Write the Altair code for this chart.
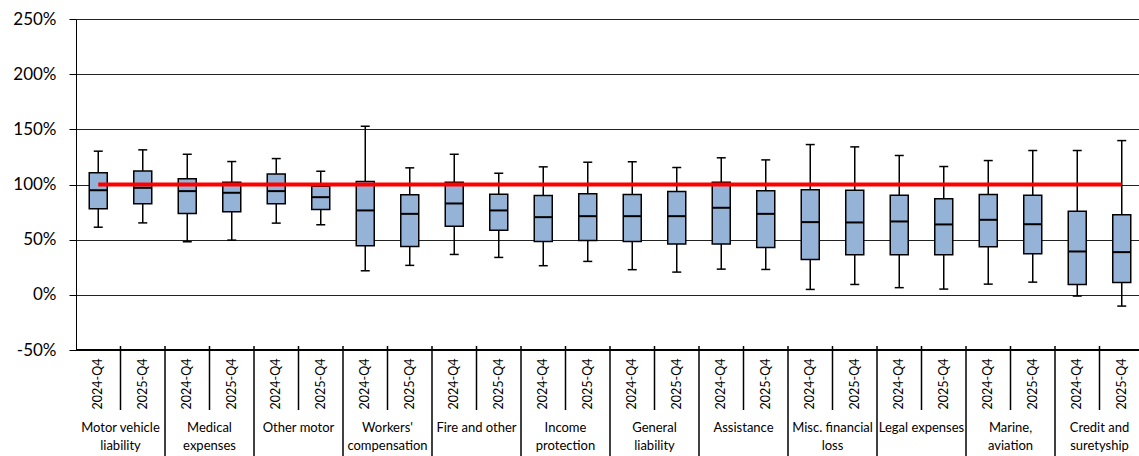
import altair as alt
import pandas as pd

# Lines of business, two reference periods each
categories = [
    "Motor vehicle\nliability", "Medical\nexpenses", "Other motor",
    "Workers'\ncompensation", "Fire and other", "Income\nprotection",
    "General\nliability", "Assistance", "Misc. financial\nloss",
    "Legal expenses", "Marine,\naviation", "Credit and\nsuretyship",
]
periods = ["2024-Q4", "2025-Q4"]

# Box-plot statistics (%), in category/period order
whisker_high = [130.2, 131.4, 127.4, 120.8, 123.5, 112.0, 152.8, 115.1,
                127.4, 110.2, 116.0, 120.2, 120.6, 115.4, 124.2, 122.3,
                136.2, 134.1, 126.3, 116.3, 121.7, 130.8, 130.8, 139.8]
q3 = [110.6, 112.2, 105.2, 102.1, 109.5, 98.5, 102.7, 90.6,
      102.1, 91.2, 90.0, 91.6, 90.9, 93.7, 102.1, 94.3,
      95.2, 94.9, 90.3, 87.0, 90.9, 90.3, 75.8, 72.6]
median = [94.8, 97.0, 94.0, 92.5, 94.0, 88.5, 76.5, 73.4,
          82.8, 76.5, 70.4, 71.3, 71.3, 71.3, 78.9, 73.4,
          65.9, 65.6, 66.5, 63.8, 68.0, 64.0, 39.3, 38.7]
q1 = [78.0, 82.5, 73.8, 75.3, 82.6, 77.4, 44.5, 43.9,
      62.2, 58.6, 48.4, 49.3, 48.4, 46.0, 46.0, 43.0,
      32.1, 36.3, 36.3, 36.3, 43.6, 37.2, 9.4, 11.2]
whisker_low = [61.3, 65.2, 48.1, 49.6, 65.0, 63.5, 21.8, 26.7,
               36.6, 33.9, 26.4, 30.3, 22.8, 20.6, 23.3, 23.0,
               4.9, 9.4, 6.5, 5.2, 9.7, 11.5, -1.1, -10.2]
target = 100
y_ticks = [-50, 0, 50, 100, 150, 200, 250]

# Layout (pixels)
PAD_LEFT, PAD_TOP = 76, 19
PLOT_W, PLOT_H = 1063, 331
PAD_BOTTOM = 456 - PAD_TOP - PLOT_H
SLOT_PX = 44.5
x_max = PLOT_W / SLOT_PX

rows = []
for ci, cat in enumerate(categories):
    for pi, per in enumerate(periods):
        i = ci * len(periods) + pi
        rows.append(dict(category=cat, period=per, pos=i + 0.5,
                         low=whisker_low[i], q1=q1[i], median=median[i],
                         q3=q3[i], high=whisker_high[i]))
df = pd.DataFrame(rows)

cat_centers = pd.DataFrame({
    "category": categories,
    "pos": [ci * len(periods) + len(periods) / 2 for ci in range(len(categories))],
})
year_seps = pd.DataFrame({"pos": [ci * 2 + 1 for ci in range(len(categories))]})
cat_seps = pd.DataFrame({"pos": [ci * 2 for ci in range(1, len(categories))]})
target_df = pd.DataFrame({"x": [df["pos"].iloc[0]], "x2": [df["pos"].iloc[-1]], "y": [target]})
floor_df = pd.DataFrame({"x": [0], "x2": [x_max], "y": [y_ticks[0]]})

x_scale = alt.Scale(domain=[0, x_max], nice=False, zero=False, padding=0)
y_scale = alt.Scale(domain=[y_ticks[0], y_ticks[-1]], nice=False, zero=False, padding=0)

FONT = "Lato"

base = alt.Chart(df)

whiskers = base.mark_rule(color="black", strokeWidth=1.5).encode(
    x=alt.X("pos:Q", scale=x_scale, axis=None),
    y=alt.Y("low:Q", scale=y_scale,
            axis=alt.Axis(values=y_ticks, labelExpr="datum.value + '%'",
                          title=None, grid=True, gridColor="#222222",
                          gridWidth=1, domainColor="black", domainWidth=1,
                          tickColor="black", tickSize=7, labelPadding=13,
                          labelFontSize=17, labelFont=FONT,
                          labelColor="black")),
    y2="high:Q",
)

caps_low = base.mark_tick(orient="horizontal", size=9, thickness=1.5,
                          color="black", opacity=1).encode(
    x=alt.X("pos:Q", scale=x_scale), y=alt.Y("low:Q", scale=y_scale))
caps_high = base.mark_tick(orient="horizontal", size=9, thickness=1.5,
                           color="black", opacity=1).encode(
    x=alt.X("pos:Q", scale=x_scale), y=alt.Y("high:Q", scale=y_scale))

boxes = base.mark_bar(size=18, fill="#95B3D7", stroke="black",
                      strokeWidth=1.5, opacity=1).encode(
    x=alt.X("pos:Q", scale=x_scale),
    y=alt.Y("q1:Q", scale=y_scale),
    y2="q3:Q",
)

medians = base.mark_tick(orient="horizontal", size=18, thickness=2,
                         color="black", opacity=1).encode(
    x=alt.X("pos:Q", scale=x_scale), y=alt.Y("median:Q", scale=y_scale))

target_line = alt.Chart(target_df).mark_rule(color="#FF0000", strokeWidth=4).encode(
    x=alt.X("x:Q", scale=x_scale), x2="x2:Q", y=alt.Y("y:Q", scale=y_scale))

floor_line = alt.Chart(floor_df).mark_rule(color="black", strokeWidth=2).encode(
    x=alt.X("x:Q", scale=x_scale), x2="x2:Q", y=alt.Y("y:Q", scale=y_scale))

# Category axis drawn below the plot: separators and labels
year_sep_rules = alt.Chart(year_seps).mark_rule(color="black", strokeWidth=1.5).encode(
    x=alt.X("pos:Q", scale=x_scale),
    y=alt.value(PLOT_H - 4), y2=alt.value(PLOT_H + 60))
cat_sep_rules = alt.Chart(cat_seps).mark_rule(color="black", strokeWidth=1.5).encode(
    x=alt.X("pos:Q", scale=x_scale),
    y=alt.value(PLOT_H - 4), y2=alt.value(PLOT_H + PAD_BOTTOM))

period_labels = base.mark_text(angle=270, align="center", baseline="middle",
                               font=FONT, fontSize=12.5, color="black").encode(
    x=alt.X("pos:Q", scale=x_scale), y=alt.value(PLOT_H + 34), text="period:N")

cat_labels = alt.Chart(cat_centers).mark_text(
    align="center", baseline="middle", lineBreak="\n", lineHeight=17.5,
    font=FONT, fontSize=13, color="black").encode(
    x=alt.X("pos:Q", scale=x_scale), y=alt.value(PLOT_H + 78), text="category:N")

chart = alt.layer(
    whiskers, caps_low, caps_high, boxes, medians, target_line, floor_line,
    year_sep_rules, cat_sep_rules, period_labels, cat_labels,
).properties(
    width=PLOT_W, height=PLOT_H,
    autosize=alt.AutoSizeParams(type="none"),
    padding={"left": PAD_LEFT, "top": PAD_TOP, "right": 0, "bottom": PAD_BOTTOM},
    background="white",
).configure_view(stroke=None)

chart.save("out.html", embed_options={"renderer": "svg", "actions": False})
